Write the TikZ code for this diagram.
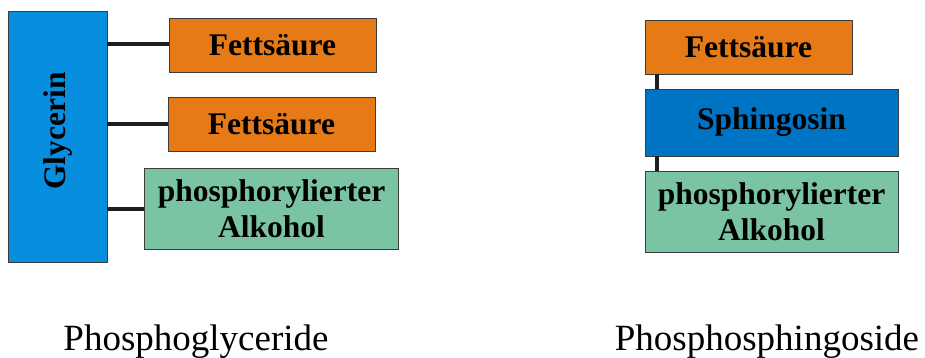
\documentclass[tikz,border=0pt]{standalone}
\usepackage{fontspec}
\setmainfont{Liberation Serif}
\definecolor{gblue}{RGB}{8,142,222}
\definecolor{sblue}{RGB}{0,116,196}
\definecolor{forange}{RGB}{230,122,22}
\definecolor{pgreen}{RGB}{122,196,164}
\definecolor{edge}{RGB}{60,60,60}
\begin{document}
\begin{tikzpicture}[x=1pt,y=-1pt,
  box/.style={draw=edge,line width=0.8pt,inner sep=0pt,align=center,
    font=\fontsize{31.5}{36}\selectfont\bfseries},
  link/.style={line width=3.4pt,draw={rgb,255:red,30;green,30;blue,30}},
  captext/.style={font=\fontsize{37}{40}\selectfont,anchor=base}]
\useasboundingbox (0,0) rectangle (925,358);
% left
\node[box,fill=gblue,minimum width=99pt,minimum height=251pt] (gly) at (57.5,136.5) {};
\node[rotate=90,font=\fontsize{31.5}{36}\selectfont\bfseries] (glyt) at (57.5,131) {Glycerin};
\node[box,fill=forange,minimum width=207pt,minimum height=54pt] (f1) at (272.5,45) {Fettsäure};
\node[box,fill=forange,minimum width=207pt,minimum height=54pt] (f2) at (271.5,124.5) {Fettsäure};
\node[box,fill=pgreen,minimum width=254pt,minimum height=81pt] (p1) at (271.5,208.5) {phosphorylierter\\Alkohol};
\draw[link] (gly.east |- 0,44) -- (f1.west |- 0,44);
\draw[link] (gly.east |- 0,124) -- (f2.west |- 0,124);
\draw[link] (gly.east |- 0,209) -- (p1.west |- 0,209);
% right
\node[box,fill=forange,minimum width=207pt,minimum height=54pt] (f3) at (748.5,47) {Fettsäure};
\node[box,fill=sblue,minimum width=253pt,minimum height=67pt] (sph) at (771.5,122.5) {Sphingosin};
\node[box,fill=pgreen,minimum width=253pt,minimum height=81pt] (p2) at (771.5,211.5) {phosphorylierter\\Alkohol};
\draw[link] (f3.south -| 657,0) -- (sph.north -| 657,0);
\draw[link] (sph.south -| 657,0) -- (p2.north -| 657,0);
% captions
\node[captext] (c1) at (196,350) {Phosphoglyceride};
\node[captext] (c2) at (767,350) {Phosphosphingoside};
\end{tikzpicture}
\end{document}
